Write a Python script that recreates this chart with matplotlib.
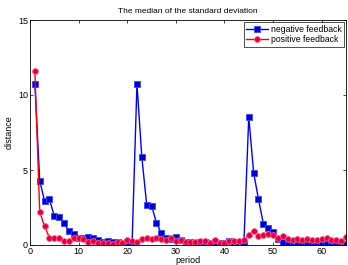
import matplotlib
matplotlib.use("Agg")
import matplotlib.pyplot as plt

plt.rcParams['font.family'] = ['Liberation Sans', 'DejaVu Sans']

periods = list(range(1, 66))
negative = [10.73, 4.29, 2.92, 3.05, 1.92, 1.86, 1.44, 0.91, 0.73, 0.50,
            0.46, 0.53, 0.44, 0.33, 0.20, 0.29, 0.18, 0.18, 0.13, 0.18,
            0.15, 10.73, 5.86, 2.70, 2.63, 1.50, 0.77, 0.50, 0.42, 0.55,
            0.35, 0.20, 0.18, 0.15, 0.22, 0.18, 0.15, 0.22, 0.15, 0.13,
            0.29, 0.18, 0.18, 0.15, 8.54, 4.82, 3.05, 1.42, 1.13, 0.86,
            0.40, 0.18, 0.20, 0.18, 0.09, 0.09, 0.11, 0.15, 0.04, 0.09,
            0.13, 0.11, 0.11, 0.11, 0.09]
positive = [11.60, 2.19, 1.26, 0.49, 0.46, 0.44, 0.29, 0.29, 0.49, 0.46,
            0.38, 0.22, 0.24, 0.13, 0.15, 0.15, 0.09, 0.18, 0.11, 0.35,
            0.27, 0.18, 0.38, 0.46, 0.38, 0.49, 0.38, 0.35, 0.50, 0.24,
            0.35, 0.22, 0.20, 0.18, 0.24, 0.29, 0.15, 0.31, 0.15, 0.13,
            0.24, 0.27, 0.27, 0.35, 0.66, 0.93, 0.62, 0.69, 0.71, 0.64,
            0.50, 0.62, 0.40, 0.33, 0.38, 0.31, 0.38, 0.31, 0.33, 0.42,
            0.49, 0.33, 0.33, 0.29, 0.53]

fig = plt.figure(figsize=(3.48, 2.65), dpi=100)
ax = fig.add_axes([30/348, 20/265, 316/348, 225/265])

ax.plot(periods, negative, color='#0000ff', lw=1.0, marker='s', ms=3.8,
        mfc='#0000cc', mec='#3344ff', mew=0.6, label='negative feedback')
ax.plot(periods, positive, color='#ff0000', lw=1.0, marker='o', ms=4.2,
        mfc='#e0004a', mec='#ff6080', mew=0.6, label='positive feedback')

ax.set_xlim(0, 65)
ax.set_ylim(0, 15)
ax.set_xticks([0, 10, 20, 30, 40, 50, 60])
ax.set_yticks([0, 5, 10, 15])
ax.tick_params(direction='in', length=2.5, width=0.5, labelsize=6.5,
               top=True, right=True, pad=1.5)
for s in ax.spines.values():
    s.set_linewidth(0.6)

ax.set_title('The median of the standard deviation', fontsize=6, pad=5)
ax.set_xlabel('period', fontsize=6.5, labelpad=0)
ax.set_ylabel('distance', fontsize=6.5, labelpad=3)

leg = ax.legend(loc='upper right', fontsize=6.2, frameon=True, fancybox=False,
                edgecolor='black', borderpad=0.3, labelspacing=0.2,
                handlelength=2.5, handletextpad=0.3, borderaxespad=0.25)
leg.get_frame().set_linewidth(0.6)

fig.savefig('out.png', dpi=100)
